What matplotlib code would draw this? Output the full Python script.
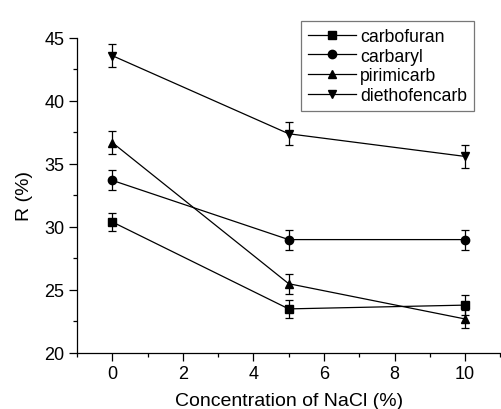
import matplotlib
matplotlib.use("Agg")
import matplotlib.pyplot as plt
from matplotlib.ticker import MultipleLocator
from matplotlib.lines import Line2D

plt.rcParams['font.family'] = ['Liberation Sans', 'DejaVu Sans']

nacl = [0, 5, 10]
carbofuran = [30.4, 23.5, 23.8]
carbofuran_err = [0.7, 0.7, 0.8]
carbaryl = [33.7, 29.0, 29.0]
carbaryl_err = [0.8, 0.8, 0.8]
pirimicarb = [36.7, 25.5, 22.7]
pirimicarb_err = [0.9, 0.8, 0.7]
diethofencarb = [43.6, 37.4, 35.6]
diethofencarb_err = [0.9, 0.9, 0.9]

series = [
    ("carbofuran", carbofuran, carbofuran_err, "s"),
    ("carbaryl", carbaryl, carbaryl_err, "o"),
    ("pirimicarb", pirimicarb, pirimicarb_err, "^"),
    ("diethofencarb", diethofencarb, diethofencarb_err, "v"),
]

fig = plt.figure(figsize=(5.01, 4.10), dpi=100)
ax = fig.add_axes([0.1537, 0.1366, 0.845, 0.7683])

handles = []
for name, y, e, m in series:
    ax.errorbar(nacl, y, yerr=e, color='black', marker=m, markersize=6,
                linewidth=0.9, elinewidth=0.9, capsize=3, capthick=0.9)
    handles.append(Line2D([], [], color='black', marker=m, markersize=6,
                          linewidth=0.9))

ax.set_xlim(-1, 11)
ax.set_ylim(20, 45)
ax.xaxis.set_major_locator(MultipleLocator(2))
ax.xaxis.set_minor_locator(MultipleLocator(1))
ax.yaxis.set_major_locator(MultipleLocator(5))
ax.yaxis.set_minor_locator(MultipleLocator(2.5))
ax.spines['top'].set_visible(False)
ax.spines['right'].set_visible(False)
for s in ['left', 'bottom']:
    ax.spines[s].set_linewidth(0.9)
ax.tick_params(which='major', direction='out', length=5.5, width=0.9, labelsize=13)
ax.tick_params(which='minor', direction='out', length=3, width=0.9)
ax.set_xlabel("Concentration of NaCl (%)", fontsize=14, labelpad=7)
ax.set_ylabel("R (%)", fontsize=14, labelpad=8)

leg = fig.legend(handles=handles, labels=[s[0] for s in series],
                 loc='upper left', bbox_to_anchor=(0.583, 0.968),
                 fontsize=12.7, frameon=True, fancybox=False,
                 edgecolor='#555555', handlelength=2.7, labelspacing=0.15,
                 borderpad=0.4, handletextpad=0.25)
leg.get_frame().set_linewidth(0.9)

fig.savefig("out.png", dpi=100)
